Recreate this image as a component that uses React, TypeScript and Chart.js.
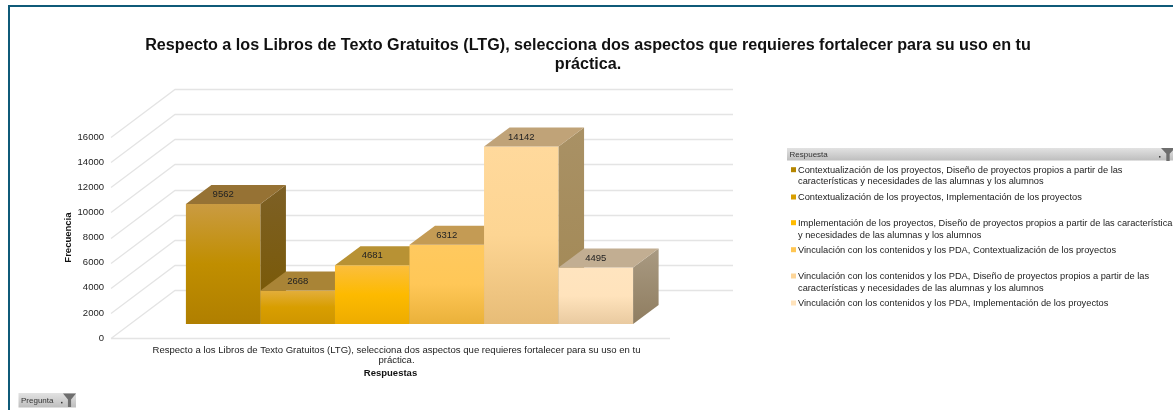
import React, { useEffect, useRef } from "react";
import { Chart, registerables, layouts } from "chart.js";

Chart.register(...registerables);

const titleLines = [
  "Respecto a los Libros de Texto Gratuitos (LTG), selecciona dos aspectos que requieres fortalecer para su uso en tu",
  "práctica.",
];
const categoryLines = [
  "Respecto a los Libros de Texto Gratuitos (LTG), selecciona dos aspectos que requieres fortalecer para su uso en tu",
  "práctica.",
];
const seriesNames = [
  ["Contextualización de los proyectos, Diseño de proyectos propios a partir de las", "características y necesidades de las alumnas y los alumnos"],
  ["Contextualización de los proyectos, Implementación de los proyectos"],
  ["Implementación de los proyectos, Diseño de proyectos propios a partir de las características", "y necesidades de las alumnas y los alumnos"],
  ["Vinculación con los contenidos y los PDA, Contextualización de los proyectos"],
  ["Vinculación con los contenidos y los PDA, Diseño de proyectos propios a partir de las", "características y necesidades de las alumnas y los alumnos"],
  ["Vinculación con los contenidos y los PDA, Implementación de los proyectos"],
];
const seriesValues = [9562, 2668, 4681, 6312, 14142, 4495];
const axisMax = 16000;
const axisStep = 2000;

// Styling, one row per series
const frontStops = [
  ["#CA9B42", "#C08E00", "#B07F00"],
  ["#E3AE3C", "#D89E00", "#CF9600"],
  ["#FBBE3E", "#FDBA00", "#EDAC00"],
  ["#FFC95F", "#FFC757", "#EAB13A"],
  ["#FFD99C", "#FDD593", "#E7BC77"],
  ["#FFE4BF", "#FFE3BC", "#E9CAA0"],
];
const topColors = ["#967234", "#A98436", "#B89234", "#C49B54", "#C0A378", "#C2AE92"];
const sideStops = [
  ["#7D6026", "#795800"],
  ["#927020", "#8E6800"],
  ["#A88420", "#A07A00"],
  ["#B08C40", "#A88030"],
  ["#A99165", "#A28854"],
  ["#A99A82", "#8F7D60"],
];
const swatchColors = ["#B58600", "#D79E00", "#FFBB00", "#FFC653", "#FDD598", "#FFE3BC"];
const legendRowY = [[170.2, 181.2], [197.5], [223.2, 235.5], [250.2], [276.5, 288.5], [303.5]];

const FONT = "'Liberation Sans', Arial, sans-serif";
const FRONT = { x: 19, y: -14 };
const WALL = { x: 64, y: -48 };
const BAR_DEPTH = { x: 25.5, y: -19 };

function funnel(ctx: CanvasRenderingContext2D, x: number, y: number, w: number, h: number) {
  ctx.fillStyle = "#6E6E6E";
  ctx.beginPath();
  ctx.moveTo(x, y);
  ctx.lineTo(x + w, y);
  ctx.lineTo(x + w * 0.62, y + h * 0.45);
  ctx.lineTo(x + w * 0.62, y + h);
  ctx.lineTo(x + w * 0.38, y + h);
  ctx.lineTo(x + w * 0.38, y + h * 0.45);
  ctx.closePath();
  ctx.fill();
  ctx.fillStyle = "#333";
  ctx.fillRect(x - 2, y + h * 0.62, 1.5, 1.5);
}

function filterBar(ctx: CanvasRenderingContext2D, x: number, y: number, w: number, h: number, text: string) {
  const g = ctx.createLinearGradient(0, y, 0, y + h);
  g.addColorStop(0, "#E2E2E2");
  g.addColorStop(1, "#BEBEBE");
  ctx.fillStyle = g;
  ctx.fillRect(x, y, w, h);
  ctx.fillStyle = "#333";
  ctx.font = `8px ${FONT}`;
  ctx.textAlign = "left";
  ctx.textBaseline = "middle";
  ctx.fillText(text, x + 2.5, y + h / 2 + 0.5);
}

const scene = {
  id: "scene3d",
  beforeInit(chart: any) {
    const box = {
      position: "right",
      weight: 1,
      fullSize: false,
      options: {},
      width: 503,
      height: 0,
      left: 0,
      top: 0,
      right: 0,
      bottom: 0,
      isHorizontal() {
        return false;
      },
      update(_w: number, h: number) {
        this.width = 503;
        this.height = h;
      },
      draw() {
        const ctx: CanvasRenderingContext2D = chart.ctx;
        ctx.save();
        filterBar(ctx, 787, 148, 386, 12.5, "Respuesta");
        funnel(ctx, 1161, 148, 14, 13);
        ctx.font = `9.28px ${FONT}`;
        ctx.textAlign = "left";
        ctx.textBaseline = "middle";
        seriesNames.forEach((lines, i) => {
          ctx.fillStyle = swatchColors[i];
          ctx.fillRect(791, legendRowY[i][0] - 3, 5, 5);
          ctx.fillStyle = "#222";
          lines.forEach((line, j) => ctx.fillText(line, 798, legendRowY[i][j]));
        });
        filterBar(ctx, 18.5, 393, 57.5, 14.5, "Pregunta");
        funnel(ctx, 63, 393.5, 13, 13.5);
        ctx.restore();
      },
    };
    layouts.addBox(chart, box as any);
  },
  beforeDatasetsDraw(chart: any) {
    const { ctx, chartArea, scales } = chart;
    ctx.save();
    ctx.strokeStyle = "#E4E4E4";
    ctx.lineWidth = 1.3;
    ctx.beginPath();
    scales.y.ticks.forEach((t: any) => {
      const y = Math.round(scales.y.getPixelForValue(t.value)) + 0.5;
      ctx.moveTo(chartArea.left, y);
      ctx.lineTo(chartArea.left + WALL.x, y + WALL.y);
      ctx.lineTo(chartArea.right + WALL.x - 1, y + WALL.y);
      if (t.value === 0) {
        ctx.moveTo(chartArea.left, y);
        ctx.lineTo(chartArea.right, y);
      }
    });
    ctx.stroke();
    ctx.restore();
  },
  // The default pass paints the last dataset first; a 3D row must go left to right.
  beforeDatasetDraw() {
    return false;
  },
  afterDatasetsDraw(chart: any) {
    const ctx: CanvasRenderingContext2D = chart.ctx;
    chart.data.datasets.forEach((_ds: any, i: number) => {
      const meta = chart.getDatasetMeta(i);
      ctx.save();
      ctx.translate(FRONT.x, FRONT.y);
      meta.controller.draw();
      meta.data.forEach((el: any) => {
        const { x, y, base, width } = el.getProps(["x", "y", "base", "width"], true);
        const l = x - width / 2;
        const r = x + width / 2;
        const g = ctx.createLinearGradient(0, y + BAR_DEPTH.y, 0, base);
        g.addColorStop(0, sideStops[i][0]);
        g.addColorStop(1, sideStops[i][1]);
        ctx.fillStyle = g;
        ctx.beginPath();
        ctx.moveTo(r, y);
        ctx.lineTo(r + BAR_DEPTH.x, y + BAR_DEPTH.y);
        ctx.lineTo(r + BAR_DEPTH.x, base + BAR_DEPTH.y);
        ctx.lineTo(r, base);
        ctx.closePath();
        ctx.fill();
        ctx.fillStyle = topColors[i];
        ctx.beginPath();
        ctx.moveTo(l, y);
        ctx.lineTo(l + BAR_DEPTH.x, y + BAR_DEPTH.y);
        ctx.lineTo(r + BAR_DEPTH.x, y + BAR_DEPTH.y);
        ctx.lineTo(r, y);
        ctx.closePath();
        ctx.fill();
      });
      ctx.restore();
    });
    ctx.save();
    ctx.font = `9.5px ${FONT}`;
    ctx.fillStyle = "#222";
    ctx.textAlign = "center";
    ctx.textBaseline = "middle";
    chart.data.datasets.forEach((ds: any, i: number) => {
      const el = chart.getDatasetMeta(i).data[0];
      const { x, y } = el.getProps(["x", "y"], true);
      ctx.fillText(String(ds.data[0]), x + FRONT.x, y + FRONT.y + BAR_DEPTH.y / 2);
    });
    ctx.restore();
  },
};

function frontGradient(c: any) {
  const { chart, datasetIndex, raw } = c;
  const stops = frontStops[datasetIndex];
  if (!chart.chartArea || raw === undefined) return stops[1];
  const g = chart.ctx.createLinearGradient(0, chart.scales.y.getPixelForValue(raw), 0, chart.scales.y.getPixelForValue(0));
  g.addColorStop(0, stops[0]);
  g.addColorStop(0.5, stops[1]);
  g.addColorStop(1, stops[2]);
  return g;
}

export default function App() {
  const ref = useRef<HTMLCanvasElement>(null);
  useEffect(() => {
    const chart = new Chart(ref.current as HTMLCanvasElement, {
      type: "bar",
      plugins: [scene],
      data: {
        labels: [categoryLines],
        datasets: seriesNames.map((name, i) => ({
          label: name.join(" "),
          data: [seriesValues[i]],
          backgroundColor: frontGradient,
          borderWidth: 0,
          clip: false,
          categoryPercentage: 0.8,
          barPercentage: 1,
        })),
      } as any,
      options: {
        animation: false,
        responsive: false,
        layout: { padding: { left: 3, right: 0, top: 0, bottom: 0 } },
        plugins: {
          legend: { display: false },
          tooltip: { enabled: false },
          title: {
            display: true,
            text: titleLines,
            color: "#111",
            font: { family: FONT, size: 16.15, weight: "bold", lineHeight: 1.18 },
            padding: { top: 36, bottom: 63 },
          },
        },
        scales: {
          x: {
            afterFit: (s: any) => {
              s.height = 72;
            },
            grid: { display: false, drawTicks: false },
            border: { display: false },
            ticks: {
              color: "#222",
              font: { family: FONT, size: 9.55, lineHeight: 1.1 },
              padding: 7,
              labelOffset: 6,
              maxRotation: 0,
              autoSkip: false,
            },
            title: {
              display: true,
              text: "Respuestas",
              color: "#111",
              font: { family: FONT, size: 9.5, weight: "bold" },
              padding: { top: 0, bottom: 31 },
            },
          },
          y: {
            min: 0,
            max: axisMax,
            afterFit: (s: any) => {
              s.width = 108;
            },
            grid: { display: false, drawTicks: false },
            border: { display: false },
            ticks: {
              stepSize: axisStep,
              color: "#222",
              font: { family: FONT, size: 9.5 },
              padding: 7,
              callback: (v: any) => String(v),
            },
            title: {
              display: true,
              text: "Frecuencia",
              color: "#111",
              font: { family: FONT, size: 9.5, weight: "bold" },
              padding: { top: 60, bottom: 0 },
            },
          },
        },
      } as any,
    });
    return () => chart.destroy();
  }, []);
  return (
    <div style={{ position: "absolute", left: 0, top: 0, width: 1173, height: 410, overflow: "hidden", background: "#fff" }}>
      <div
        style={{
          position: "absolute",
          left: 8,
          top: 5,
          width: 1165,
          height: 405,
          boxSizing: "border-box",
          borderTop: "2px solid #0F5A78",
          borderLeft: "2px solid #0F5A78",
        }}
      />
      <canvas ref={ref} width={1173} height={410} style={{ position: "absolute", left: 0, top: 0 }} />
    </div>
  );
}
